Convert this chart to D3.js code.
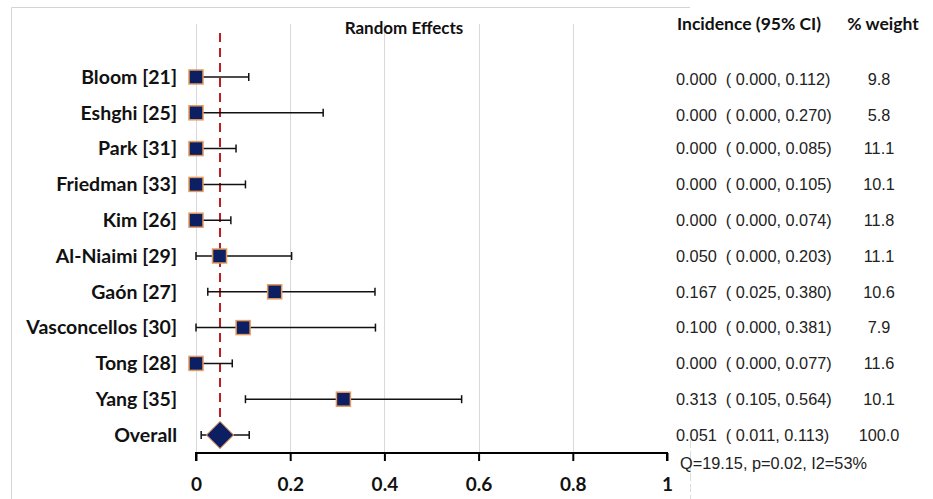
<!DOCTYPE html>
<html>
<head>
<meta charset="utf-8">
<script src="https://cdn.jsdelivr.net/npm/d3@7"></script>
<style>
  body { margin: 0; background: #fff; }
  svg { display: block; }
  .pre { white-space: pre; }
</style>
</head>
<body>
<svg id="chart" width="933" height="499"></svg>
<script>
var studies = ['Bloom [21]', 'Eshghi [25]', 'Park [31]', 'Friedman [33]', 'Kim [26]',
  'Al-Niaimi [29]', 'Gaón [27]', 'Vasconcellos [30]', 'Tong [28]', 'Yang [35]'];
var estimate = [0, 0, 0, 0, 0, 0.05, 0.167, 0.1, 0, 0.313];
var lower = [0, 0, 0, 0, 0, 0, 0.025, 0, 0, 0.105];
var upper = [0.112, 0.270, 0.085, 0.105, 0.074, 0.203, 0.380, 0.381, 0.077, 0.564];
var weights = [9.8, 5.8, 11.1, 10.1, 11.8, 11.1, 10.6, 7.9, 11.6, 10.1];
var overall = { name: 'Overall', est: 0.051, lo: 0.011, hi: 0.113, weight: 100.0 };
var xTicks = [0, 0.2, 0.4, 0.6, 0.8, 1];
var stats = 'Q=19.15, p=0.02, I2=53%';

var navy = '#0c1f63';
var orange = '#e39a5c';
var labelFont = 'Lato, "Open Sans", sans-serif';
var tableFont = '"Liberation Sans", Arial, sans-serif';

var svg = d3.select('#chart');

var rows = studies.map(function (s, i) {
  return { name: s, est: estimate[i], lo: lower[i], hi: upper[i], weight: weights[i] };
});
var allRows = rows.concat([overall]);

var x = d3.scaleLinear().domain([0, 1]).range([196, 667]);
var y = d3.scalePoint().domain(allRows.map(function (d) { return d.name; })).range([77, 435]);
var axisY = 453;

// frame
svg.append('path')
  .attr('d', 'M11.5,499 V7.5 H690')
  .attr('fill', 'none').attr('stroke', '#d4d4d4').attr('stroke-width', 1);
svg.append('line')
  .attr('x1', 690.5).attr('x2', 690.5).attr('y1', 440).attr('y2', 499)
  .attr('stroke', '#dcdcdc').attr('stroke-dasharray', '8,3');

// gridlines
svg.append('g').selectAll('line')
  .data(xTicks.filter(function (t) { return t < 1; })).enter().append('line')
  .attr('x1', function (d) { return Math.round(x(d)) + 0.5; })
  .attr('x2', function (d) { return Math.round(x(d)) + 0.5; })
  .attr('y1', 24).attr('y2', axisY)
  .attr('stroke', '#d9d9d9').attr('stroke-width', 1);

// title
svg.append('text')
  .attr('x', 404).attr('y', 34)
  .attr('text-anchor', 'middle')
  .attr('font-family', labelFont).attr('font-weight', 'bold').attr('font-size', 17)
  .attr('fill', '#111')
  .text('Random Effects');

// pooled estimate line
svg.append('line')
  .attr('x1', x(overall.est)).attr('x2', x(overall.est))
  .attr('y1', 33).attr('y2', axisY)
  .attr('stroke', '#b81f1f').attr('stroke-width', 2).attr('stroke-dasharray', '9,6');

// x axis
var axis = d3.axisBottom(x).tickValues(xTicks).tickSize(8).tickPadding(17)
  .tickFormat(function (d) { return d === 0 || d === 1 ? String(d) : d3.format('.1f')(d); });
var gAxis = svg.append('g').attr('transform', 'translate(0,' + axisY + ')').call(axis);
gAxis.select('.domain').attr('stroke', '#000').attr('stroke-width', 2)
  .attr('d', 'M' + x(0) + ',8V0H' + x(1) + 'V8');
gAxis.selectAll('.tick line').attr('stroke', '#000').attr('stroke-width', 2);
gAxis.selectAll('.tick text')
  .attr('font-family', labelFont).attr('font-weight', 'bold').attr('font-size', 19)
  .attr('fill', '#111');

// study labels
svg.append('g').selectAll('text')
  .data(allRows).enter().append('text')
  .attr('x', 177)
  .attr('y', function (d) { return y(d.name); })
  .attr('dy', '0.35em')
  .attr('text-anchor', 'end')
  .attr('font-family', labelFont).attr('font-weight', 'bold').attr('font-size', 19.5)
  .attr('fill', '#111')
  .text(function (d) { return d.name; });

// confidence intervals
var ci = svg.append('g').selectAll('g')
  .data(allRows).enter().append('g')
  .attr('transform', function (d) { return 'translate(0,' + y(d.name) + ')'; });
ci.append('line')
  .attr('x1', function (d) { return x(d.lo); })
  .attr('x2', function (d) { return x(d.hi); })
  .attr('stroke', '#111').attr('stroke-width', 1.5);
ci.selectAll('.cap')
  .data(function (d) { return [d.lo, d.hi]; }).enter().append('line')
  .attr('x1', function (v) { return x(v); }).attr('x2', function (v) { return x(v); })
  .attr('y1', -4).attr('y2', 4)
  .attr('stroke', '#111').attr('stroke-width', 1.5);

// study boxes
var box = 14;
svg.append('g').selectAll('rect')
  .data(rows).enter().append('rect')
  .attr('x', function (d) { return x(d.est) - box / 2; })
  .attr('y', function (d) { return y(d.name) - box / 2; })
  .attr('width', box).attr('height', box)
  .attr('fill', navy).attr('stroke', orange).attr('stroke-width', 1.5);

// overall diamond
svg.append('path')
  .attr('d', d3.symbol().type(d3.symbolSquare).size(370))
  .attr('transform', 'translate(' + x(overall.est) + ',' + y(overall.name) + ') rotate(45)')
  .attr('fill', navy).attr('stroke', orange).attr('stroke-width', 1);

// table
var fmt = d3.format('.3f');
svg.append('text')
  .attr('x', 677).attr('y', 30)
  .attr('font-family', labelFont).attr('font-weight', 'bold').attr('font-size', 17.5)
  .attr('fill', '#111')
  .text('Incidence (95% CI)');
svg.append('text')
  .attr('x', 883).attr('y', 30)
  .attr('text-anchor', 'middle')
  .attr('font-family', labelFont).attr('font-weight', 'bold').attr('font-size', 17.5)
  .attr('fill', '#111')
  .text('% weight');

var tbl = svg.append('g').selectAll('g')
  .data(allRows).enter().append('g')
  .attr('transform', function (d, i) { return 'translate(0,' + (y(d.name) + (i < 2 ? 2 : 0)) + ')'; });
tbl.append('text')
  .attr('class', 'pre')
  .attr('x', 676).attr('dy', '0.35em')
  .attr('font-family', tableFont).attr('font-size', 16.3).attr('fill', '#222')
  .text(function (d) { return fmt(d.est) + '  ( ' + fmt(d.lo) + ', ' + fmt(d.hi) + ')'; });
tbl.append('text')
  .attr('x', 879).attr('dy', '0.35em')
  .attr('text-anchor', 'middle')
  .attr('font-family', tableFont).attr('font-size', 16.3).attr('fill', '#222')
  .text(function (d) { return d3.format('.1f')(d.weight); });

svg.append('text')
  .attr('x', 680).attr('y', 469)
  .attr('font-family', tableFont).attr('font-size', 16.3).attr('fill', '#222')
  .text(stats);
</script>
</body>
</html>
